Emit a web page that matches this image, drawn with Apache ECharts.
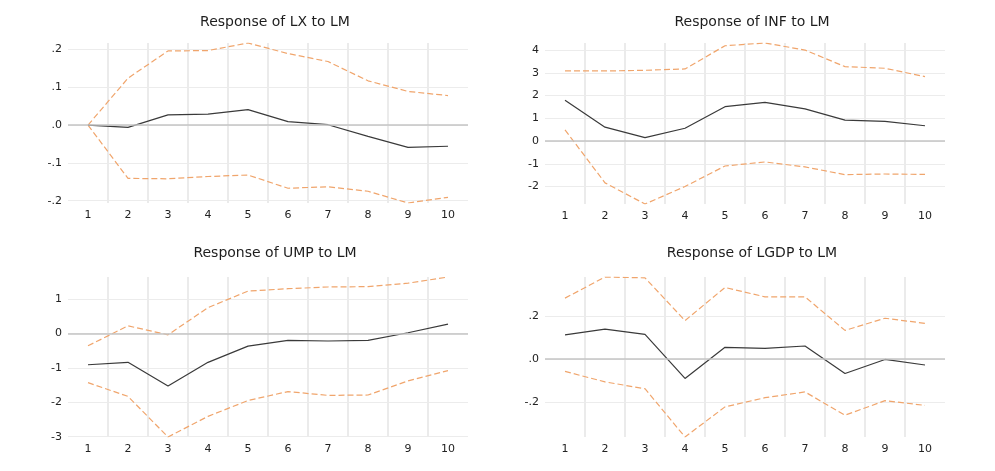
<!DOCTYPE html>
<html>
<head>
<meta charset="utf-8">
<script src="https://cdn.jsdelivr.net/npm/echarts@6/dist/echarts.min.js"></script>
<style>
html,body{margin:0;padding:0;background:#fff;}
#chart{width:995px;height:471px;}
</style>
</head>
<body>
<div id="chart"></div>
<script>
const categories = ['1','2','3','4','5','6','7','8','9','10'];

const titles = ['Response of LX to LM','Response of INF to LM','Response of UMP to LM','Response of LGDP to LM'];

const lxResp  = [0.000,-0.006,0.027,0.029,0.041,0.009,0.001,-0.030,-0.059,-0.056];
const lxUpper = [0.000,0.124,0.196,0.197,0.217,0.189,0.168,0.117,0.089,0.078];
const lxLower = [0.000,-0.141,-0.142,-0.136,-0.132,-0.167,-0.163,-0.175,-0.206,-0.191];

const infResp  = [1.79,0.61,0.15,0.56,1.51,1.70,1.41,0.92,0.86,0.67];
const infUpper = [3.08,3.08,3.11,3.17,4.19,4.31,4.00,3.27,3.20,2.83];
const infLower = [0.49,-1.84,-2.77,-2.00,-1.10,-0.92,-1.14,-1.48,-1.45,-1.47];

const umpResp  = [-0.91,-0.84,-1.53,-0.84,-0.37,-0.20,-0.22,-0.20,0.02,0.27];
const umpUpper = [-0.36,0.22,-0.04,0.75,1.23,1.30,1.35,1.36,1.46,1.64];
const umpLower = [-1.43,-1.83,-3.01,-2.41,-1.95,-1.69,-1.80,-1.79,-1.38,-1.08];

const gdpResp  = [0.113,0.140,0.115,-0.091,0.055,0.050,0.061,-0.068,-0.002,-0.028];
const gdpUpper = [0.285,0.384,0.380,0.180,0.335,0.291,0.291,0.134,0.191,0.167];
const gdpLower = [-0.058,-0.107,-0.139,-0.365,-0.224,-0.181,-0.154,-0.263,-0.195,-0.217];

const tickSteps = [0.1, 1, 1, 0.2];
const decimalStyle = [true, false, false, true];

const panels = [
  {resp: lxResp, up: lxUpper, lo: lxLower},
  {resp: infResp, up: infUpper, lo: infLower},
  {resp: umpResp, up: umpUpper, lo: umpLower},
  {resp: gdpResp, up: gdpUpper, lo: gdpLower}
];

const grids = [
  {left: 68, top: 43, width: 400, height: 160},
  {left: 545, top: 43, width: 400, height: 161},
  {left: 68, top: 277, width: 400, height: 160},
  {left: 545, top: 277, width: 400, height: 160}
];

function fmt(i){
  const step = tickSteps[i];
  return function(v){
    const r = v / step;
    if (Math.abs(r - Math.round(r)) > 1e-6) return '';
    if (decimalStyle[i]) {
      let s = (Math.round(v*10)/10).toFixed(1);
      if (s === '-0.0') s = '0.0';
      return s.replace(/^(-?)0\./, '$1.');
    }
    return String(Math.round(v));
  };
}

const option = {
  animation: false,
  backgroundColor: '#fff',
  title: titles.map((t, i) => ({
    text: t,
    left: grids[i].left + grids[i].width / 2 + 2,
    textAlign: 'center',
    top: i < 2 ? 10 : 241,
    textStyle: {fontFamily: 'DejaVu Sans', fontSize: 14, fontWeight: 'normal', color: '#1e1e1e'}
  })),
  grid: grids.map(g => Object.assign({containLabel: false}, g)),
  xAxis: grids.map((g, i) => ({
    type: 'category',
    gridIndex: i,
    data: categories,
    boundaryGap: true,
    axisLine: {show: false},
    axisTick: {show: false},
    axisLabel: {color: '#222', fontFamily: 'DejaVu Sans', fontSize: 11, margin: 7},
    splitLine: {show: true, showMinLine: false, showMaxLine: false, lineStyle: {color: '#ebebeb', width: 2}}
  })),
  yAxis: panels.map((p, i) => {
    const all = p.up.concat(p.lo, p.resp);
    return {
      type: 'value',
      gridIndex: i,
      min: Math.min.apply(null, all),
      max: Math.max.apply(null, all),
      minInterval: tickSteps[i],
      maxInterval: tickSteps[i],
      axisLine: {show: false},
      axisTick: {show: false},
      axisLabel: {color: '#222', fontFamily: 'DejaVu Sans', fontSize: 11, margin: 6,
        showMinLabel: false, showMaxLabel: false, formatter: fmt(i)},
      splitLine: {show: true, showMinLine: false, showMaxLine: false, lineStyle: {color: '#ececec', width: 1}}
    };
  }),
  series: []
};

panels.forEach((p, i) => {
  option.series.push({
    type: 'line', xAxisIndex: i, yAxisIndex: i, data: p.up,
    symbol: 'none', silent: true,
    lineStyle: {color: '#F0A56C', width: 1.2, type: [6, 3]}
  });
  option.series.push({
    type: 'line', xAxisIndex: i, yAxisIndex: i, data: p.lo,
    symbol: 'none', silent: true,
    lineStyle: {color: '#F0A56C', width: 1.2, type: [6, 3]}
  });
  option.series.push({
    type: 'line', xAxisIndex: i, yAxisIndex: i, data: p.resp,
    symbol: 'none', silent: true, z: 3,
    lineStyle: {color: '#3a3a3a', width: 1.2},
    markLine: {
      silent: true, symbol: ['none', 'none'], label: {show: false},
      lineStyle: {color: '#c4c4c4', width: 1.5, type: 'solid'},
      data: [{yAxis: 0}]
    }
  });
});

const chart = echarts.init(document.getElementById('chart'), null, {renderer: 'canvas'});
chart.setOption(option);
</script>
</body>
</html>
